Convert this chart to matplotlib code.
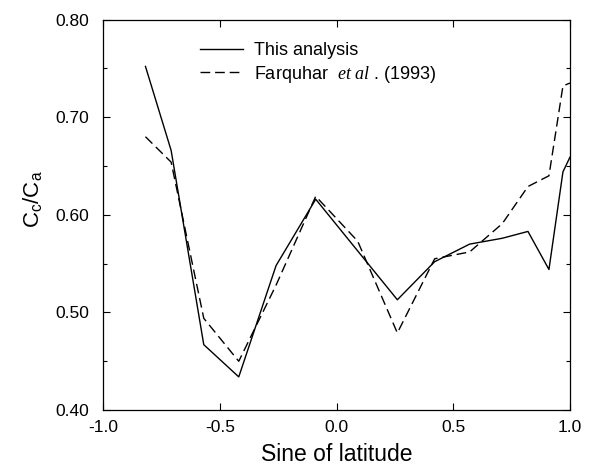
import matplotlib
matplotlib.use('Agg')
import matplotlib.pyplot as plt
from matplotlib.ticker import MultipleLocator

plt.rcParams['font.family'] = ['Liberation Sans', 'DejaVu Sans']
plt.rcParams['mathtext.fontset'] = 'custom'
plt.rcParams['mathtext.rm'] = 'Liberation Sans'
plt.rcParams['mathtext.it'] = 'Liberation Serif:italic'

# sine of latitude (10-degree bands)
sinlat = [-0.82, -0.71, -0.57, -0.42, -0.26, -0.09, 0.09, 0.26,
          0.42, 0.57, 0.71, 0.82, 0.91, 0.97, 1.00]
this_analysis = [0.752, 0.666, 0.467, 0.434, 0.548, 0.616, 0.563, 0.513,
                 0.552, 0.570, 0.576, 0.583, 0.544, 0.644, 0.659]
farquhar = [0.680, 0.654, 0.494, 0.450, 0.528, 0.619, 0.573, 0.479,
            0.555, 0.562, 0.591, 0.629, 0.640, 0.732, 0.735]

fig = plt.figure(figsize=(5.9, 4.66), dpi=100)
ax = fig.add_axes([0.1754, 0.120, 0.7906, 0.838])

ax.plot(sinlat, this_analysis, 'k-', lw=1.0, label='This analysis')
ax.plot(sinlat, farquhar, 'k--', lw=1.0, dashes=(7, 3.5),
        label=r'Farquhar  $\mathit{et\ al}$ . (1993)')

ax.set_xlim(-1.0, 1.0)
ax.set_ylim(0.40, 0.80)
ax.xaxis.set_major_locator(MultipleLocator(0.5))
ax.yaxis.set_major_locator(MultipleLocator(0.1))
ax.yaxis.set_minor_locator(MultipleLocator(0.05))
ax.xaxis.set_major_formatter(plt.FormatStrFormatter('%.1f'))
ax.yaxis.set_major_formatter(plt.FormatStrFormatter('%.2f'))
ax.tick_params(which='both', direction='in', top=True, right=True,
               width=0.8, labelsize=12.5)
ax.tick_params(which='major', length=5)
ax.tick_params(which='minor', length=3)
ax.tick_params(axis='y', pad=10)
ax.tick_params(axis='x', pad=7)
for s in ax.spines.values():
    s.set_linewidth(0.9)

ax.set_xlabel('Sine of latitude', fontsize=16.5, labelpad=6)
ax.set_ylabel(r'$\mathrm{C_c/C_a}$', fontsize=16)
ax.yaxis.set_label_coords(-0.125, 0.54)

leg = ax.legend(loc='upper left', bbox_to_anchor=(0.207, 0.942),
                frameon=False, fontsize=13, handlelength=2.4,
                handletextpad=0.6, labelspacing=0.25, borderpad=0,
                borderaxespad=0)

fig.savefig('out.png', dpi=100)
